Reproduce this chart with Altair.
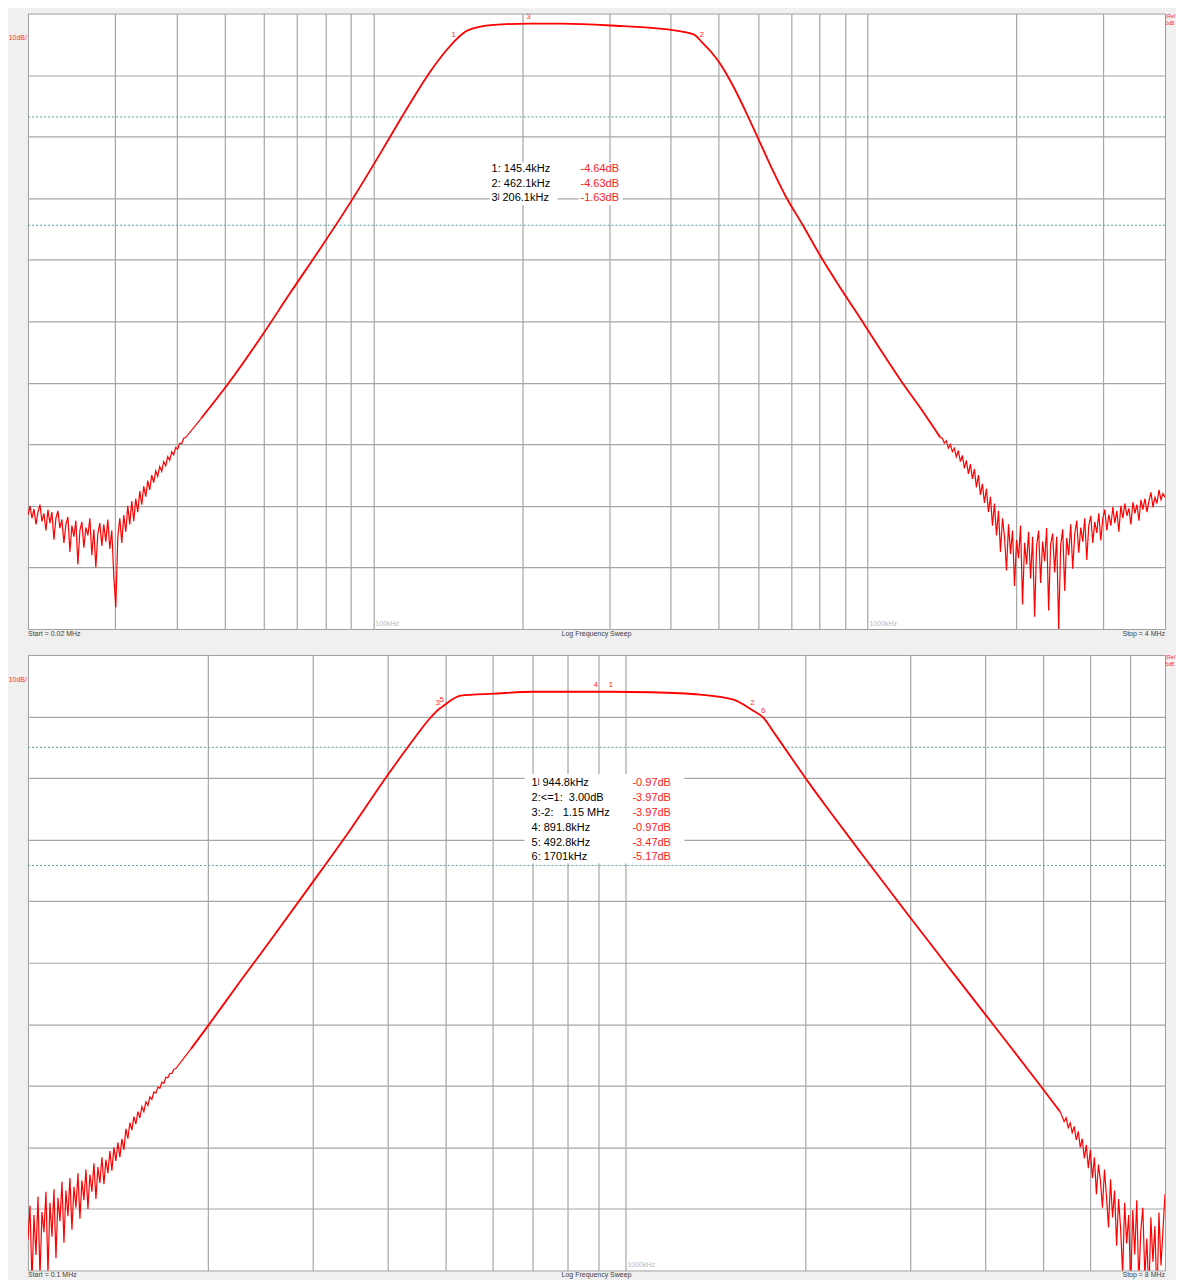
import altair as alt
import numpy as np
import pandas as pd

W, H = 1138, 616          # plot area of each panel (px)
GAP = 20                  # grey strip between the two panels
BG = "#f0f0f0"
RED = "#ff0000"
GRID = "#a6a6a6"
FONT = "Liberation Sans, DejaVu Sans"
NB = "\u00a0"

# ================= TOP SWEEP : 0.02 MHz .. 4 MHz =================
top_x_domain = [20, 4000]          # kHz
top_y_domain = [-100, 0]           # dB (Ref 0 dB, 10 dB/div)
top_x_grid = [30, 40, 50, 60, 70, 80, 90, 100, 200, 300, 400, 500, 600, 700, 800, 900, 1000, 2000, 3000]
top_y_grid = [-90, -80, -70, -60, -50, -40, -30, -20, -10]
top_limit_db = [-16.8, -34.4]

# noisy low-frequency stretch (sweep points are log-spaced between the band edges)
top_lo_band_khz = [20.0, 41.7]
top_lo_db = [-81.5, -80.0, -82.0, -80.5, -83.0, -81.0, -79.8, -82.5, -81.2, -84.0,
             -80.6, -82.8, -81.0, -85.5, -82.0, -80.8, -83.6, -82.2, -86.0, -83.0,
             -81.8, -87.5, -83.2, -85.0, -82.4, -89.5, -84.0, -82.6, -86.8, -83.5,
             -84.8, -82.0, -88.0, -83.8, -90.0, -84.5, -82.8, -86.5, -83.0, -85.8,
             -82.2, -87.0, -84.0, -91.5, -96.5, -85.0, -82.0, -86.0, -81.5, -84.2,
             -80.0, -83.0, -79.2, -82.5, -78.8, -81.0, -77.6, -79.8, -76.8, -78.5,
             -75.9, -77.4, -75.0, -76.2, -74.3, -75.2, -73.6, -74.4, -72.8, -73.5,
             -72.0, -72.6, -71.2, -71.7, -70.5, -70.8, -69.8, -69.9, -69.0, -68.9]
top_main_khz = [44.8, 51.0, 59.2, 68.0, 78.2, 90.0, 103.5, 113.6, 121.8, 130.6, 140.0, 145.4,
                155.2, 175.1, 206.1, 239.3, 302, 393.8, 444.6, 462.1, 481.3, 504, 528, 566,
                607, 645, 682, 740, 803, 880, 967, 1060, 1165, 1290, 1404]
top_main_db = [-65.8, -60.0, -52.6, -45.3, -38.1, -30.6, -22.6, -17.1, -13.1, -9.35, -6.13, -4.64,
               -2.74, -1.85, -1.63, -1.65, -1.94, -2.58, -3.39, -4.63, -6.13, -8.23, -10.97, -15.8,
               -21.1, -25.7, -29.6, -34.4, -39.4, -44.5, -49.5, -54.5, -59.5, -64.5, -68.9]
top_hi_band_khz = [1417.0, 4000.0]
top_hi_db = [-69.0, -69.8, -69.4, -70.6, -70.0, -71.2, -70.6, -72.0, -71.0, -72.8,
             -71.8, -73.9, -72.6, -74.8, -73.2, -75.6, -74.0, -77.0, -75.0, -78.2,
             -76.4, -79.5, -77.2, -81.0, -78.5, -83.2, -79.6, -84.8, -80.8, -87.5,
             -82.0, -85.0, -90.5, -83.0, -87.8, -84.0, -93.0, -85.5, -88.5, -83.2,
             -96.0, -86.0, -89.5, -84.2, -91.8, -85.0, -98.0, -86.5, -84.0, -92.5,
             -85.8, -89.0, -83.6, -97.0, -86.2, -84.5, -90.8, -85.0, -100.0, -86.4,
             -83.8, -93.8, -85.2, -88.0, -83.0, -90.2, -84.6, -82.4, -87.6, -83.5,
             -85.8, -82.0, -88.8, -83.2, -81.6, -86.0, -82.6, -84.4, -81.2, -85.6,
             -82.0, -80.6, -84.0, -81.4, -83.2, -80.2, -82.8, -80.8, -84.2, -80.0,
             -82.0, -79.6, -81.6, -80.4, -83.0, -79.4, -81.2, -79.8, -82.4, -79.0,
             -80.6, -78.8, -81.0, -79.2, -77.8, -80.2, -78.6, -79.6, -77.4, -79.0,
             -78.0, -78.6]
top_marker_khz = [145.4, 206.1, 462.1]
top_marker_db = [-4.64, -1.63, -4.63]
top_marker_id = ["1", "3", "2"]
top_table_left = ["1: 145.4kHz", "2: 462.1kHz", "3\u02b2 206.1kHz"]
top_table_right = ["-4.64dB", "-4.63dB", "-1.63dB"]
top_decade_khz = [100, 1000]
top_decade_txt = ["100kHz", "1000kHz"]
top_start, top_stop, top_ref = "Start = 0.02 MHz", "Stop = 4 MHz", "0dB"

# ================= BOTTOM SWEEP : 0.1 MHz .. 8 MHz =================
bot_x_domain = [100, 8000]
bot_y_domain = [-95, 5]            # Ref 5 dB, 10 dB/div
bot_x_grid = [200, 300, 400, 500, 600, 700, 800, 900, 1000, 2000, 3000, 4000, 5000, 6000, 7000]
bot_y_grid = [-85, -75, -65, -55, -45, -35, -25, -15, -5]
bot_limit_db = [-10.0, -29.2]

bot_lo_band_khz = [100.0, 176.8]
bot_lo_db = [-90.0, -84.5, -97.0, -86.0, -92.5, -83.0, -96.0, -85.5, -88.8, -82.2,
             -95.5, -84.0, -89.5, -81.8, -93.0, -83.2, -87.0, -80.6, -90.5, -82.0,
             -86.2, -80.0, -88.4, -81.4, -84.8, -79.2, -86.6, -80.4, -83.6, -78.6,
             -85.0, -79.4, -82.2, -77.6, -83.4, -78.2, -80.8, -76.6, -81.0, -77.0,
             -79.2, -75.6, -78.8, -75.0, -77.2, -74.2, -76.6, -73.6, -75.4, -72.0,
             -73.6, -71.0, -72.2, -70.0, -71.2, -69.2, -70.2, -68.4, -69.2, -67.6,
             -68.2, -66.8, -67.2, -66.0, -66.2, -65.2, -65.4, -64.4, -64.6, -63.6,
             -63.7, -63.0, -63.0, -62.3, -62.2]
bot_main_khz = [187.4, 200, 227.1, 254.9, 299.7, 346.8, 400, 437, 454, 472, 485, 492.8, 530,
                601.6, 701.8, 891.8, 944.8, 1101, 1335, 1516, 1631, 1701, 1781, 1888, 2039, 2202,
                2472, 2939, 3563, 4238, 4943, 5340]
bot_main_db = [-59.0, -55.3, -47.9, -41.3, -31.9, -23.3, -14.5, -9.35, -7.18, -5.16, -3.97, -3.47, -1.61,
               -1.29, -0.97, -0.97, -0.97, -1.05, -1.45, -2.26, -3.97, -5.17, -7.9, -11.45, -16.1, -20.5,
               -27.0, -36.6, -47.1, -56.5, -64.9, -69.2]
bot_hi_band_khz = [5381.0, 8000.0]
bot_hi_db = [-70.0, -70.8, -70.2, -71.8, -71.0, -72.6, -71.6, -73.8, -72.4, -75.0,
             -73.6, -76.8, -74.6, -78.4, -75.4, -80.0, -76.6, -82.6, -77.8, -80.4,
             -84.8, -78.6, -83.0, -88.0, -80.2, -86.4, -82.0, -91.0, -83.4, -88.2,
             -95.5, -84.0, -90.6, -86.0, -98.0, -85.2, -92.4, -83.6, -97.0, -88.6,
             -84.8, -96.0, -89.8, -99.0, -86.4, -93.6, -87.8, -100.0, -85.6, -94.2,
             -88.4, -82.6]
bot_marker_khz = [485, 492.8, 891.8, 944.8, 1631, 1701]
bot_marker_db = [-3.97, -3.47, -0.97, -0.97, -3.97, -5.17]
bot_marker_id = ["3", "5", "4", "1", "2", "6"]
bot_table_left = ["1\u02b2 944.8kHz", "2:<=1:" + NB + NB + "3.00dB", "3:-2:" + NB + NB + NB + "1.15 MHz",
                  "4: 891.8kHz", "5: 492.8kHz", "6: 1701kHz"]
bot_table_right = ["-0.97dB", "-3.97dB", "-3.97dB", "-0.97dB", "-3.47dB", "-5.17dB"]
bot_decade_khz = [1000]
bot_decade_txt = ["1000kHz"]
bot_start, bot_stop, bot_ref = "Start = 0.1 MHz", "Stop = 8 MHz", "5dB"


def pix_text(rows, align, baseline="middle", **kw):
    df = pd.DataFrame(rows, columns=["px", "py", "t", "col", "fs"])
    return alt.Chart(df).mark_text(align=align, baseline=baseline, font=FONT, **kw).encode(
        x=alt.X("px:Q", scale=None, axis=None),
        y=alt.Y("py:Q", scale=None, axis=None),
        text="t:N",
        color=alt.Color("col:N", scale=None),
        size=alt.Size("fs:Q", scale=None),
    )


def pix_rect(rows, fill):
    df = pd.DataFrame(rows, columns=["x0", "x1", "y0", "y1"])
    return alt.Chart(df).mark_rect(color=fill).encode(
        x=alt.X("x0:Q", scale=None, axis=None), x2="x1:Q",
        y=alt.Y("y0:Q", scale=None, axis=None), y2="y1:Q",
    )


def panel(lo_band, lo_db, main_f, main_db, hi_band, hi_db, xdom, ydom, xgrid, ygrid,
          limits, mk_f, mk_db, mk_id, tl, tr, tbl, dec_f, dec_t, start, stop, ref, gap_below):
    ky = H / 620.0  # table positions were read on a 620 px graticule
    lo_f = list(np.geomspace(lo_band[0], lo_band[1], len(lo_db)))
    hi_f = list(np.geomspace(hi_band[0], hi_band[1], len(hi_db)))
    df_lo = pd.DataFrame({"f": lo_f + [main_f[0]], "db": list(lo_db) + [main_db[0]]})
    df_main = pd.DataFrame({"f": main_f, "db": main_db})
    df_hi = pd.DataFrame({"f": [main_f[-1]] + hi_f, "db": [main_db[-1]] + list(hi_db)})

    x_enc = alt.X("f:Q", scale=alt.Scale(type="log", domain=xdom, nice=False),
                  axis=alt.Axis(values=xgrid, grid=True, labels=False, ticks=False, domain=False,
                                title=None, gridColor=GRID, gridWidth=1.2, gridOpacity=1))
    y_enc = alt.Y("db:Q", scale=alt.Scale(domain=ydom, nice=False, zero=False),
                  axis=alt.Axis(values=ygrid, grid=True, labels=False, ticks=False, domain=False,
                                title=None, gridColor=GRID, gridWidth=1.2, gridOpacity=1))

    limit_layer = alt.Chart(pd.DataFrame({"db": limits})).mark_rule(
        color="#4aa6a6", strokeDash=[2, 2], strokeWidth=1).encode(y=y_enc)

    lines = [
        alt.Chart(df_lo).mark_line(color=RED, strokeWidth=1.2, clip=True).encode(x=x_enc, y=y_enc),
        alt.Chart(df_main).mark_line(color=RED, strokeWidth=1.8, clip=True,
                                     interpolate="monotone").encode(x=x_enc, y=y_enc),
        alt.Chart(df_hi).mark_line(color=RED, strokeWidth=1.2, clip=True).encode(x=x_enc, y=y_enc),
    ]

    # opaque text backgrounds of the marker readout
    x0, ly, rx, row_h, left_w, right_w = tbl
    ly, row_h = ly * ky, row_h * ky
    n = len(tl)
    if n > 3:
        rects = [[x0 - 7, rx + right_w + 10, ly - 9, ly + row_h * (n - 1) + 6]]
    else:
        rects = [[x0 - 2, x0 + left_w, ly - 7, ly + row_h * (n - 1) + 7],
                 [rx - 2, rx + right_w, ly - 7, ly + row_h * (n - 1) + 7]]
    box_layer = pix_rect(rects, "white")

    rows_l = [[x0, ly + i * row_h, t, "#000000", 11] for i, t in enumerate(tl)]
    rows_l += [[rx, ly + i * row_h, t, "#ff2020", 11] for i, t in enumerate(tr)]
    rows_b_l = [[0, H + 0.5, start, "#404040", 7]]
    rows_b_r = [[W, H + 0.5, stop, "#404040", 7]]
    rows_b_c = [[W / 2, H + 0.5, "Log Frequency Sweep", "#404040", 7]]
    rows_rt = [[-1, 25 * ky, "10dB/", "#ff3030", 7]]
    # the reference readout is cut off by the page edge
    rows_ref = [[W + 0.3, 0, "(Ref2", "#ff3030", 5.2], [W + 0.3, 7, ref, "#ff3030", 5.2]]

    # background-coloured specks that fix the frame around the graticule
    frame = pix_rect([[-19, -18, 0, 1], [W + 9.5, W + 10.5, 0, 1], [0, 1, -4, -3],
                      [0, 1, H + gap_below - 1, H + gap_below]], BG)

    mk = alt.Chart(pd.DataFrame({"f": mk_f, "db": mk_db, "id": mk_id})).mark_text(
        color="#ff3030", fontSize=8, font=FONT, baseline="bottom", dy=-3).encode(
        x=x_enc, y=y_enc, text="id:N")

    dec = alt.Chart(pd.DataFrame({"f": dec_f, "t": dec_t})).mark_text(
        color="#b8b8b8", fontSize=7, font=FONT, align="left", dx=2).encode(
        x=x_enc, y=alt.value(H - 5), text="t:N")

    return alt.layer(
        limit_layer, *lines, box_layer, dec, frame,
        pix_text(rows_l, "left", "middle"),
        pix_text(rows_rt, "right"),
        pix_text(rows_b_l, "left", "top"),
        pix_text(rows_b_r, "right", "top"),
        pix_text(rows_b_c, "center", "top"),
        pix_text(rows_ref, "left", "top", limit=10, ellipsis="\u200b"),
        mk,
    ).properties(width=W, height=H)


top = panel(top_lo_band_khz, top_lo_db, top_main_khz, top_main_db, top_hi_band_khz, top_hi_db,
            top_x_domain, top_y_domain, top_x_grid, top_y_grid, top_limit_db,
            top_marker_khz, top_marker_db, top_marker_id, top_table_left, top_table_right,
            (464, 157, 553, 14.5, 66, 42), top_decade_khz, top_decade_txt,
            top_start, top_stop, top_ref, GAP)

bottom = panel(bot_lo_band_khz, bot_lo_db, bot_main_khz, bot_main_db, bot_hi_band_khz, bot_hi_db,
               bot_x_domain, bot_y_domain, bot_x_grid, bot_y_grid, bot_limit_db,
               bot_marker_khz, bot_marker_db, bot_marker_id, bot_table_left, bot_table_right,
               (504, 129, 605, 15, 90, 42), bot_decade_khz, bot_decade_txt,
               bot_start, bot_stop, bot_ref, 8)

chart = alt.vconcat(top, bottom, spacing=0).properties(
    padding={"left": 0, "top": 0, "right": 0, "bottom": 0}
).configure(background=BG).configure_view(stroke="#a0a0a0", strokeWidth=1, fill="white")

chart.save("out.html", embed_options={"renderer": "svg", "actions": False})
